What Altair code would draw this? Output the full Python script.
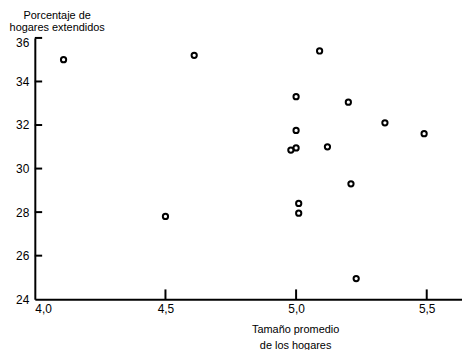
import altair as alt
import pandas as pd

# Data
tamano = [4.11, 4.61, 4.50, 5.09, 5.00, 5.20, 5.34, 5.49, 5.00, 5.12, 5.00, 4.98, 5.21, 5.01, 5.01, 5.23]
porcentaje = [35.0, 35.2, 27.8, 35.4, 33.3, 33.05, 32.1, 31.6, 31.75, 31.0, 30.95, 30.85, 29.3, 28.4, 27.95, 24.95]
x_ticks = [4.0, 4.5, 5.0, 5.5]
y_ticks = [24, 26, 28, 30, 32, 34, 36]

df = pd.DataFrame({"tamano": tamano, "porcentaje": porcentaje})
xt = pd.DataFrame({"t": x_ticks[1:]})
yt = pd.DataFrame({"t": y_ticks[1:]})

FONT = "Liberation Sans"
W, H = 430, 263

xscale = alt.Scale(domain=[4.0, 5.635], nice=False, zero=False)
yscale = alt.Scale(domain=[24, 36], nice=False, zero=False)

points = alt.Chart(df).mark_point(
    shape="circle", filled=False, color="black", strokeWidth=2, size=28, opacity=1
).encode(
    x=alt.X("tamano:Q", scale=xscale,
            axis=alt.Axis(values=x_ticks, grid=False, ticks=False, domainColor="black",
                          domainWidth=2, labelExpr="replace(format(datum.value, '.1f'), '.', ',')",
                          labelFont=FONT, labelFontSize=12, labelColor="black", labelPadding=4,
                          title=["Tamaño promedio", "de los hogares"], titleFont=FONT,
                          titleFontSize=11, titleFontWeight="normal", titleColor="black",
                          titleX=262, titleY=25, titleBaseline="top", titleAlign="center",
                          titleLineHeight=16)),
    y=alt.Y("porcentaje:Q", scale=yscale,
            axis=alt.Axis(values=y_ticks, grid=False, ticks=False, domainColor="black",
                          domainWidth=2, labelFont=FONT, labelFontSize=12, labelColor="black",
                          labelPadding=6,
                          labelBaseline={"condition": {"test": "datum.value == 36", "value": "top"},
                                         "value": "middle"},
                          title=["Porcentaje de", "hogares extendidos"], titleFont=FONT,
                          titleFontSize=11, titleFontWeight="normal", titleColor="black",
                          titleAngle=0, titleX=22, titleY=-29, titleBaseline="top",
                          titleAlign="center", titleLineHeight=13)),
)

xtick_rules = alt.Chart(xt).mark_rule(color="black", strokeWidth=2).encode(
    x=alt.X("t:Q", scale=xscale),
    y=alt.datum(24),
    y2=alt.datum(24.45),
)

ytick_rules = alt.Chart(yt).mark_rule(color="black", strokeWidth=2).encode(
    y=alt.Y("t:Q", scale=yscale),
    x=alt.datum(4.0),
    x2=alt.datum(4.028),
)

chart = alt.layer(points, xtick_rules, ytick_rules).properties(
    width=W, height=H,
    autosize=alt.AutoSizeParams(type="none"),
    padding={"left": 27, "top": 29, "right": 0, "bottom": 50},
).configure_view(stroke=None)

chart.save("out.html", embed_options={"renderer": "svg", "actions": False})
